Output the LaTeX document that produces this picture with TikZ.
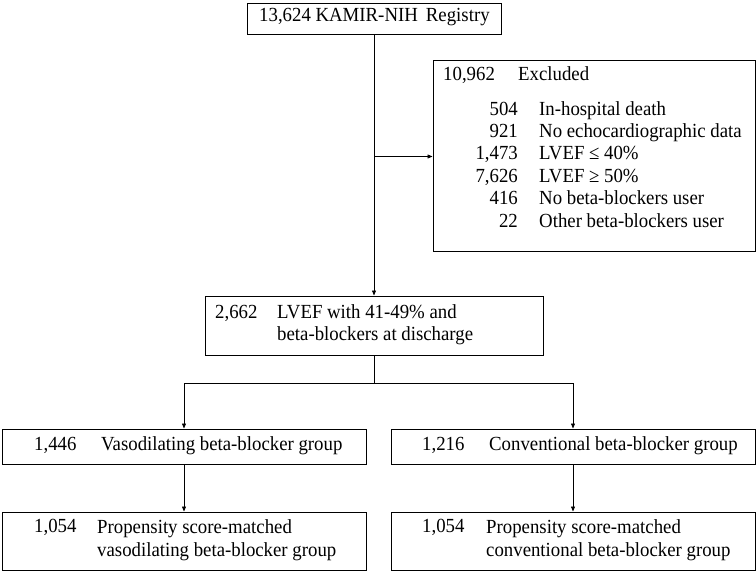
\documentclass[tikz,border=0pt]{standalone}
\usepackage{fontspec}
\setmainfont{Liberation Serif}[FakeStretch=0.94]
\usepackage{tikz}
\usetikzlibrary{arrows.meta}

\begin{document}
\begin{tikzpicture}[x=1pt, y=-1pt,
    box/.style={draw, line width=1pt, inner sep=0pt},
    txt/.style={anchor=mid west, inner sep=0pt, font=\fontsize{20}{24}\selectfont},
    num/.style={anchor=mid east, inner sep=0pt, font=\fontsize{20}{24}\selectfont},
    flow/.style={-{Triangle[length=5pt,width=4pt]}, line width=0.7pt}]
\useasboundingbox (0,0) rectangle (756,575);
% the boxes
  \node[box, minimum width=254pt, minimum height=31pt] (reg) at (374, 19.5) {};
  \node[box, minimum width=322pt, minimum height=191pt] (excl) at (594, 156.5) {};
  \node[box, minimum width=338pt, minimum height=59pt] (lvef) at (374, 325.5) {};
  \node[box, minimum width=364pt, minimum height=35pt] (vaso) at (184, 446.5) {};
  \node[box, minimum width=364pt, minimum height=35pt] (conv) at (573, 446.5) {};
  \node[box, minimum width=364pt, minimum height=58pt] (psvaso) at (184, 541) {};
  \node[box, minimum width=364pt, minimum height=58pt] (psconv) at (573, 541) {};
% labels
  \node[txt] (regtxt) at (259, 19.5) {13,624 KAMIR-NIH\, Registry};
  \node[txt] (excln) at (443, 78) {10,962};
  \node[txt] (excll) at (518, 78) {Excluded};
  \node[num] (n1) at (518, 113) {504};
  \node[txt] (l1) at (539, 113) {In-hospital death};
  \node[num] (n2) at (518, 135) {921};
  \node[txt] (l2) at (539, 135) {No echocardiographic data};
  \node[num] (n3) at (518, 157) {1,473};
  \node[txt] (l3) at (539, 157) {LVEF \symbol{"2264} 40\%};
  \node[num] (n4) at (518, 180) {7,626};
  \node[txt] (l4) at (539, 180) {LVEF \symbol{"2265} 50\%};
  \node[num] (n5) at (518, 202) {416};
  \node[txt] (l5) at (539, 202) {No beta-blockers user};
  \node[num] (n6) at (518, 225) {22};
  \node[txt] (l6) at (539, 225) {Other beta-blockers user};
  \node[txt] (lvefn) at (215, 316) {2,662};
  \node[txt] (lvefa) at (277, 316) {LVEF with 41-49\% and};
  \node[txt] (lvefb) at (277, 338) {beta-blockers at discharge};
  \node[txt] (vason) at (34, 448) {1,446};
  \node[txt] (vasol) at (101, 448) {Vasodilating beta-blocker group};
  \node[txt] (convn) at (422, 448) {1,216};
  \node[txt] (convl) at (489, 448) {Conventional beta-blocker group};
  \node[txt] (psvason) at (34, 530) {1,054};
  \node[txt] (psvasoa) at (97, 531) {Propensity score-matched};
  \node[txt] (psvasob) at (97, 554) {vasodilating beta-blocker group};
  \node[txt] (psconvn) at (422, 530) {1,054};
  \node[txt] (psconva) at (486, 531) {Propensity score-matched};
  \node[txt] (psconvb) at (486, 554) {conventional beta-blocker group};
% connectors
  \draw[flow] (reg.south) -- (lvef.north);
  \coordinate (tap) at (reg.south |- excl.west);
  \draw[flow] (tap) -- (excl.west);
  \coordinate (split) at (374, 383);
  \draw[line width=0.7pt] (lvef.south) -- (split);
  \draw[flow] (split) -| (vaso.north);
  \draw[flow] (split) -| (conv.north);
  \draw[flow] (vaso.south) -- (psvaso.north);
  \draw[flow] (conv.south) -- (psconv.north);
\end{tikzpicture}
\end{document}
